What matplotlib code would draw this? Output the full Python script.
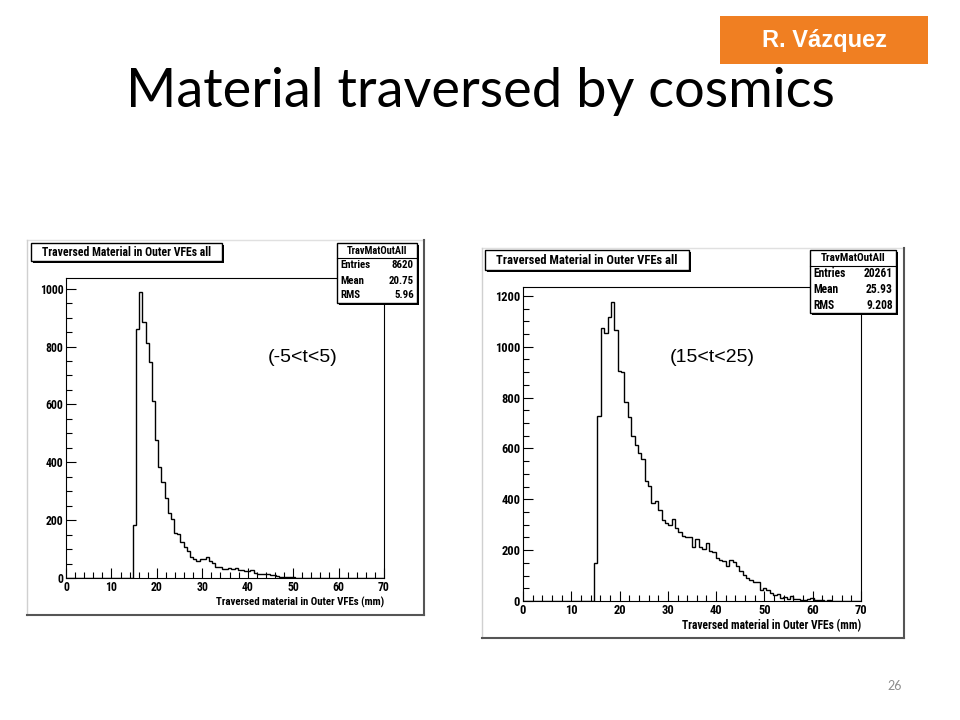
import numpy as np
import matplotlib.pyplot as plt
from matplotlib.patches import Rectangle
from matplotlib.lines import Line2D

# --- Data ---
BIN_EDGES = np.linspace(0, 70, 101)      # 100 bins of 0.7 mm
FIRST_BIN = 21                           # first filled bin (14.7 mm)

LEFT_COUNTS = [
    182, 860, 988, 885, 814, 747, 613, 478, 384,
    332, 278, 225, 205, 156, 152, 125, 108, 93, 74,
    66, 59, 66, 66, 74, 59, 51, 37, 37, 30,
    30, 36, 30, 33, 28, 28, 25, 25, 28, 19,
    15, 15, 13, 13, 10, 10, 6, 4, 3, 2,
    3, 2, 1, 0, 1, 0, 1,
]
RIGHT_COUNTS = [
    151, 728, 1072, 1056, 1117, 1176, 1065, 904, 899,
    781, 722, 650, 613, 584, 557, 472, 453, 384, 393,
    358, 318, 305, 299, 322, 288, 270, 257, 253, 253,
    214, 244, 214, 204, 227, 197, 194, 168, 161, 157,
    138, 161, 152, 138, 118, 102, 92, 83, 76, 76,
    45, 50, 43, 33, 24, 26, 13, 15, 8, 18,
    8, 6, 5, 4, 8, 10, 4, 2, 2, 1,
    2, 1, 1, 1,
]

LEFT_STATS = [("Entries", "8620"), ("Mean", "20.75"), ("RMS", "5.96")]
RIGHT_STATS = [("Entries", "20261"), ("Mean", "25.93"), ("RMS", "9.208")]
STATS_NAME = "TravMatOutAll"
HIST_TITLE = "Traversed Material in Outer VFEs all"
X_LABEL = "Traversed material in Outer VFEs (mm)"
LEFT_CUT = "(-5<t<5)"
RIGHT_CUT = "(15<t<25)"
LEFT_YTICKS = [0, 200, 400, 600, 800, 1000]
RIGHT_YTICKS = [0, 200, 400, 600, 800, 1000, 1200]
XTICKS = [0, 10, 20, 30, 40, 50, 60, 70]

SLIDE_TITLE = "Material traversed by cosmics"
AUTHOR = "R. Vázquez"
PAGE = "26"

W, H = 960, 720
ROOT_FONT = ["Liberation Sans Narrow", "Roboto Condensed", "DejaVu Sans"]
ROOT_STRETCH = "condensed"


def fx(x):
    return x / W


def fy(y):
    return 1 - y / H


def rect_fig(x0, y0, x1, y1):
    return [fx(x0), fy(y1), (x1 - x0) / W, (y1 - y0) / H]


def root_text(fig, x, y, s, fs, **kw):
    return fig.text(fx(x), fy(y), s, fontsize=fs, fontweight="bold",
                    family=ROOT_FONT, fontstretch=ROOT_STRETCH, **kw)


def pave(fig, x0, y0, x1, y1, shadow=2):
    fig.add_artist(Rectangle((fx(x0 + shadow), fy(y1 + shadow)), (x1 - x0) / W,
                             (y1 - y0) / H, transform=fig.transFigure,
                             facecolor="black", edgecolor="none"))
    fig.add_artist(Rectangle((fx(x0), fy(y1)), (x1 - x0) / W, (y1 - y0) / H,
                             transform=fig.transFigure, facecolor="white",
                             edgecolor="black", lw=1))


def full_counts(counts):
    vals = np.zeros(len(BIN_EDGES) - 1)
    vals[FIRST_BIN:FIRST_BIN + len(counts)] = counts
    return vals


def draw_panel(fig, canvas, frame, title_box, stats_box, counts, stats,
               yticks, ymax, cut_text, cut_pos, fs, xlab_y):
    cx0, cy0, cx1, cy1 = canvas
    # canvas border
    fig.add_artist(Line2D([fx(cx0), fx(cx1)], [fy(cy0), fy(cy0)],
                          transform=fig.transFigure, color="#e0e0e0", lw=1))
    fig.add_artist(Line2D([fx(cx0), fx(cx0)], [fy(cy0), fy(cy1)],
                          transform=fig.transFigure, color="#d0d0d0", lw=1))
    fig.add_artist(Line2D([fx(cx1), fx(cx1)], [fy(cy0), fy(cy1)],
                          transform=fig.transFigure, color="#555555", lw=1.5))
    fig.add_artist(Line2D([fx(cx0), fx(cx1)], [fy(cy1), fy(cy1)],
                          transform=fig.transFigure, color="#555555", lw=1.5))

    ax = fig.add_axes(rect_fig(*frame))
    ax.stairs(full_counts(counts), BIN_EDGES, color="black", lw=1)
    ax.set_xlim(0, 70)
    ax.set_ylim(0, ymax)
    ax.set_xticks(XTICKS)
    ax.set_xticks(np.arange(0, 71, 2), minor=True)
    ax.set_yticks(yticks)
    ax.set_yticks(np.arange(0, ymax, 50), minor=True)
    ax.tick_params(which="both", direction="in", top=False, right=False,
                   width=0.8, colors="black")
    ax.tick_params(which="major", length=7, pad=2)
    ax.tick_params(which="minor", length=4)
    for lab in ax.get_xticklabels() + ax.get_yticklabels():
        lab.set_family(ROOT_FONT)
        lab.set_fontstretch(ROOT_STRETCH)
        lab.set_fontweight("bold")
        lab.set_fontsize(fs + 1)
    for sp in ax.spines.values():
        sp.set_linewidth(0.8)
    ax.set_facecolor("white")

    # x axis title, right aligned under the axis
    root_text(fig, frame[2], xlab_y, X_LABEL, fs + 0.3, ha="right", va="center")

    # histogram title pave
    tx0, ty0, tx1, ty1 = title_box
    pave(fig, tx0, ty0, tx1, ty1)
    root_text(fig, (tx0 + tx1) / 2, (ty0 + ty1) / 2, HIST_TITLE, fs + 1,
              ha="center", va="center")

    # stats pave
    sx0, sy0, sx1, sy1 = stats_box
    pave(fig, sx0, sy0, sx1, sy1)
    row_h = (sy1 - sy0) / 4
    fig.add_artist(Line2D([fx(sx0), fx(sx1)], [fy(sy0 + row_h), fy(sy0 + row_h)],
                          transform=fig.transFigure, color="black", lw=0.8))
    root_text(fig, (sx0 + sx1) / 2, sy0 + row_h / 2, STATS_NAME, fs,
              ha="center", va="center")
    for i, (name, val) in enumerate(stats):
        yc = sy0 + row_h * (i + 1.5)
        root_text(fig, sx0 + 3, yc, name, fs + 0.3, ha="left", va="center")
        root_text(fig, sx1 - 3, yc, val, fs + 0.3, ha="right", va="center")

    fig.text(fx(cut_pos[0]), fy(cut_pos[1]), cut_text, ha="center", va="center",
             fontsize=14, family=["Liberation Sans", "DejaVu Sans"])
    return ax


fig = plt.figure(figsize=(W / 100, H / 100), dpi=100)
fig.patch.set_facecolor("white")

# slide title and decorations
fig.text(0.5, fy(92), SLIDE_TITLE, ha="center", va="center", fontsize=39,
         family=["Lato", "DejaVu Sans"])
fig.add_artist(Rectangle((fx(720), fy(64)), 208 / W, 48 / H,
                         transform=fig.transFigure, facecolor="#f07f22",
                         edgecolor="none"))
fig.text(fx(824), fy(41), AUTHOR, ha="center", va="center", fontsize=17,
         fontweight="bold", color="white", family=["Liberation Sans", "DejaVu Sans"])
fig.text(fx(895), fy(686), PAGE, ha="center", va="center", fontsize=9,
         color="#8c8c8c", family=["Lato", "DejaVu Sans"])

draw_panel(fig, canvas=(27, 240, 424, 615), frame=(66, 278, 384, 578),
           title_box=(31, 243, 222, 261), stats_box=(337, 243, 417, 303),
           counts=LEFT_COUNTS, stats=LEFT_STATS, yticks=LEFT_YTICKS,
           ymax=1037, cut_text=LEFT_CUT, cut_pos=(303, 357), fs=7.5, xlab_y=602)

draw_panel(fig, canvas=(482, 248, 904, 638), frame=(523, 287, 861, 601),
           title_box=(485, 250, 689, 270), stats_box=(810, 250, 896, 313),
           counts=RIGHT_COUNTS, stats=RIGHT_STATS, yticks=RIGHT_YTICKS,
           ymax=1235, cut_text=RIGHT_CUT, cut_pos=(712, 357), fs=8, xlab_y=626)

fig.savefig("out.png", dpi=100)
